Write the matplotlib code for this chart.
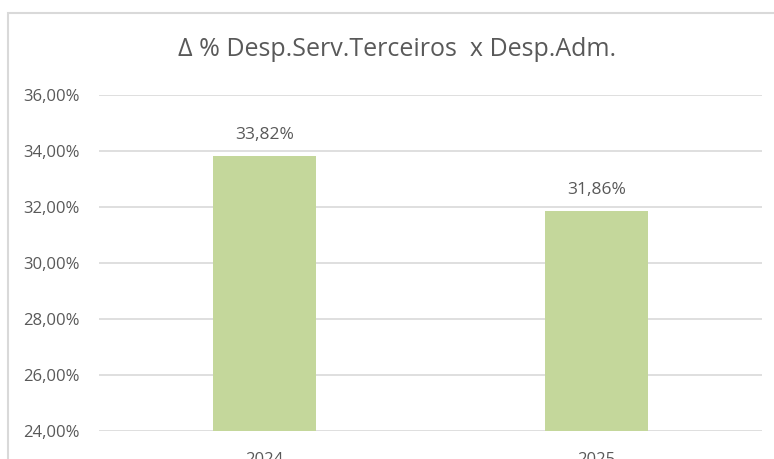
import numpy as np
import matplotlib.pyplot as plt
from matplotlib.patches import Rectangle
from matplotlib.ticker import FuncFormatter

plt.rcParams['font.family'] = 'Open Sans'

years = ['2024', '2025']
values = [33.82, 31.86]
yticks = [24, 26, 28, 30, 32, 34, 36]

bar_color = '#C4D79B'
text_color = '#595959'
grid_color = '#D9D9D9'

W, H = 774, 459
fig = plt.figure(figsize=(W / 100, H / 100), dpi=100)
ax = fig.add_axes([99 / W, 28 / H, (762 - 99) / W, (431 - 95) / H])

# chart border (cropped on right and bottom)
fig.patches.append(Rectangle((8 / W, -0.1), 1.1, (H - 13) / H + 0.1,
                             transform=fig.transFigure, fill=False,
                             edgecolor=grid_color, lw=1.5))

x = np.arange(len(years))
ax.bar(x, values, width=0.31, color=bar_color, zorder=2)
for xi, v in zip(x, values):
    ax.annotate(f"{v:.2f}%".replace('.', ','), (xi, v), xytext=(0, 15),
                textcoords='offset points', ha='center', va='center',
                fontsize=12.5, color=text_color)

ax.set_xlim(-0.5, 1.5)
ax.set_ylim(24, 36)
ax.set_yticks(yticks)
ax.yaxis.set_major_formatter(FuncFormatter(lambda v, p: f"{v:.2f}%".replace('.', ',')))
ax.set_xticks(x)
ax.set_xticklabels(years)
ax.tick_params(axis='both', length=0, labelsize=12, colors=text_color)
ax.tick_params(axis='y', pad=14)
ax.tick_params(axis='x', pad=15)
ax.grid(axis='y', color=grid_color, lw=1.2, zorder=0)
for s in ax.spines.values():
    s.set_visible(False)
ax.patch.set_visible(False)

fig.text(397 / W, 1 - 50 / H, 'Δ % Desp.Serv.Terceiros  x Desp.Adm.',
         ha='center', va='center', fontsize=18, color=text_color)

fig.savefig('out.png', dpi=100)
